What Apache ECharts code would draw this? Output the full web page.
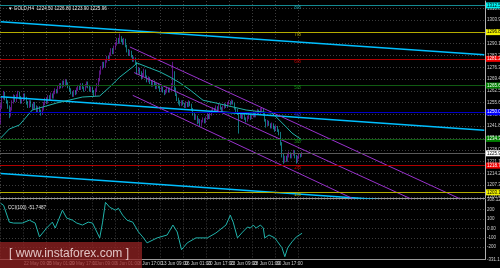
<!DOCTYPE html>
<html><head><meta charset="utf-8">
<script src="https://cdn.jsdelivr.net/npm/echarts@6/dist/echarts.min.js"></script>
<style>html,body{margin:0;padding:0;background:#000}#c{width:500px;height:268px}</style>
</head><body><div id="c"></div>
<script>
// ---------- DATA ----------
const symbolName = 'GOLD,H4';
const barCount = 338;
const timeTickIdx = [0,16,32,48,64,80,96,112,128,144,160,176,192,208];
const timeLabels = ['17 May 2017','22 May 09:00','25 May 01:00','29 May 17:00','1 Jun 09:00','6 Jun 01:00','8 Jun 17:00','13 Jun 09:00','16 Jun 01:00','20 Jun 17:00','23 Jun 09:00','28 Jun 01:00','30 Jun 17:00','5 Jul 09:00'];
const priceTicks = [1200.40,1207.30,1214.20,1221.10,1228.00,1234.90,1241.80,1248.70,1255.60,1262.50,1269.40,1276.30,1283.20,1290.10,1297.00,1303.90,1310.80];
const cciTicks = [-331.1962,-200,-100,0,100,200,308.1277];

const opens = [1244,1253,1258.5,1261,1258,1256,1253,1248.5,1252,1256,
1259,1257,1259.5,1261,1258.5,1256,1257.5,1260,1258,1255.5,
1253.5,1256,1254,1252.5,1255,1253,1251,1252.5,1250.5,1249,
1252,1255,1257.5,1256,1259,1258,1260.5,1259,1261.5,1263,
1262,1264.5,1266,1265,1267.5,1266,1268,1266.5,1265,1263,
1261.5,1260,1262,1261,1263.5,1265,1264,1266,1264.5,1263,
1265.5,1267,1265,1263,1264,1262,1260.5,1263,1266,1269,
1273,1276,1278.5,1277,1280,1282,1281,1284,1286.5,1285,
1288,1290,1292.5,1291,1293.5,1292,1290.5,1292.5,1289,1286,
1284,1285.5,1283,1280.5,1281.5,1279,1274,1275.5,1273,1270.5,
1272,1274.5,1271,1268.5,1270,1267.5,1266,1268,1266.5,1264.5,
1266,1265,1263,1264.5,1262.5,1261,1262.5,1264,1262.5,1263.5,
1266,1272,1264,1260.5,1257.5,1256,1254.5,1256,1255,1253.5,
1255.5,1254,1256,1254.5,1252,1249,1246.5,1247.5,1244,1245.5,
1243,1244.5,1246,1244.5,1246.5,1248.5,1247,1249,1250.5,1252,
1251,1253,1252,1254,1252.5,1251,1253,1254.5,1253.5,1255,
1256,1255,1256.5,1255,1252.5,1251,1249.5,1247.5,1249,1247,
1248.5,1246.5,1245,1247,1248.5,1246.5,1248,1249.5,1248,1249.5,
1251,1250,1251.5,1252,1249,1245.5,1243,1244.5,1243,1241.5,
1243,1241,1240,1241.5,1239.5,1238,1232,1225,1221.5,1223.5,
1222,1224.5,1226,1224,1225.5,1227,1224,1221,1223.5,1225,
1224.5];
const closes = [1253,1258.5,1261,1258,1256,1253,1248.5,1252,1256,1259,
1257,1259.5,1261,1258.5,1256,1257.5,1260,1258,1255.5,1253.5,
1256,1254,1252.5,1255,1253,1251,1252.5,1250.5,1249,1252,
1255,1257.5,1256,1259,1258,1260.5,1259,1261.5,1263,1262,
1264.5,1266,1265,1267.5,1266,1268,1266.5,1265,1263,1261.5,
1260,1262,1261,1263.5,1265,1264,1266,1264.5,1263,1265.5,
1267,1265,1263,1264,1262,1260.5,1263,1266,1269,1273,
1276,1278.5,1277,1280,1282,1281,1284,1286.5,1285,1288,
1290,1292.5,1291,1293.5,1292,1290.5,1292.5,1289,1286,1284,
1285.5,1283,1280.5,1281.5,1279,1274,1275.5,1273,1270.5,1272,
1274.5,1271,1268.5,1270,1267.5,1266,1268,1266.5,1264.5,1266,
1265,1263,1264.5,1262.5,1261,1262.5,1264,1262.5,1263.5,1266,
1272,1264,1260.5,1257.5,1256,1254.5,1256,1255,1253.5,1255.5,
1254,1256,1254.5,1252,1249,1246.5,1247.5,1244,1245.5,1243,
1244.5,1246,1244.5,1246.5,1248.5,1247,1249,1250.5,1252,1251,
1253,1252,1254,1252.5,1251,1253,1254.5,1253.5,1255,1256,
1255,1256.5,1255,1252.5,1251,1249.5,1247.5,1249,1247,1248.5,
1246.5,1245,1247,1248.5,1246.5,1248,1249.5,1248,1249.5,1251,
1250,1251.5,1252,1249,1245.5,1243,1244.5,1243,1241.5,1243,
1241,1240,1241.5,1239.5,1238,1232,1225,1221.5,1223.5,1222,
1224.5,1226,1224,1225.5,1227,1224,1221,1223.5,1225,1224.5,
1225.96];
const highs = [1255,1259.5,1262.5,1262,1259,1257,1254,1253,1257,1260.5,
1260,1260.5,1262.5,1262,1259.5,1258.5,1261,1261,1259,1256.5,
1257,1257,1255,1256,1256,1254,1253.5,1253.5,1251.5,1253,
1256,1258.5,1258.5,1260,1260,1261.5,1261,1262.5,1264,1263.5,
1265.5,1267,1267,1268.5,1268.5,1269.5,1269,1267.5,1266,1264,
1262,1263,1263,1264.5,1266,1266,1267,1267,1265,1266.5,
1268,1268,1266,1265,1265,1263,1264,1267,1270,1274.5,
1277,1279.5,1279.5,1281,1283,1283,1285,1287.5,1287.5,1289,
1291,1293.5,1293.5,1296,1294.5,1293,1293.5,1293,1289.5,1287,
1286.5,1286,1283.5,1282.5,1282,1279.5,1276.5,1276,1274,1273,
1275.5,1275,1271.5,1271,1270.5,1268.5,1269,1268.5,1267,1267,
1267,1265.5,1265.5,1265,1263,1263.5,1265,1264.5,1264.5,1267,
1279.5,1274,1264.5,1261,1258.5,1257,1257,1257,1255.5,1256.5,
1256,1257,1256.5,1255,1252.5,1249.5,1248.5,1248,1246.5,1246,
1245.5,1247,1246.5,1247.5,1249.5,1249,1250,1251.5,1253,1252.5,
1254,1253.5,1255,1254.5,1253,1254,1255.5,1255,1256,1257,
1256.5,1257.5,1257,1255.5,1253,1252,1250,1250,1249.5,1249.5,
1249,1247,1248,1249.5,1249,1249,1250.5,1250,1250.5,1252,
1251.5,1252.5,1253,1252.5,1249.5,1246,1245.5,1245,1243.5,1244,
1243.5,1242,1242.5,1242,1240,1238.5,1232.5,1226,1224.5,1224.5,
1225.5,1227,1226.5,1226,1228,1227.5,1225,1224.5,1226,1226,
1226.8];
const lows = [1243,1252,1257.5,1257,1255,1252,1246.5,1247.5,1251,1255,
1256,1256,1258.5,1257.5,1255,1255,1256.5,1257,1254.5,1252.5,
1252.5,1253,1251.5,1251.5,1252,1250,1250,1249.5,1248,1248.5,
1251,1254,1255,1255,1257,1257,1258,1258,1260.5,1261,
1261,1263.5,1264,1264,1265,1265,1265.5,1264,1262,1260.5,
1259,1259,1260,1260.5,1262.5,1263,1263,1263.5,1262,1262.5,
1264.5,1264,1262,1262,1261,1259,1259.5,1262,1265,1268,
1272,1275,1276,1276,1279,1280,1280,1283,1284,1284,
1287,1289,1290,1290,1291,1289.5,1289.5,1288,1285,1283,
1283,1282,1279.5,1279.5,1278,1272,1273,1272,1269.5,1269.5,
1271,1270,1267.5,1267.5,1266.5,1265,1265,1265.5,1263.5,1263.5,
1264,1262,1262,1261.5,1260,1260.5,1261.5,1261.5,1261.5,1262.5,
1264.5,1262,1259.5,1256.5,1254.5,1253.5,1253.5,1254,1252.5,1252.5,
1253,1253,1253.5,1251,1248,1245.5,1245.5,1243,1243.5,1241.5,
1242,1244,1243.5,1243.5,1245.5,1246,1246,1248,1249.5,1250,
1250,1251,1251,1251.5,1250,1250,1252,1252.5,1252.5,1254.5,
1254,1254.5,1254.5,1251.5,1250,1248.5,1237.5,1246.5,1246,1246,
1245.5,1244,1244.5,1246,1245.5,1246,1247,1247,1247,1248.5,
1249,1249,1250.5,1248,1244.5,1241,1242,1242,1240.5,1240.5,
1240,1238.5,1239,1238.5,1236.5,1230.5,1223.5,1219.8,1220.5,1221,
1221,1223.5,1223,1223,1224.5,1223,1219.9,1220.5,1222.5,1223.5,
1223.9];

const maIdx = [0,6,13,22,39,57,69,76,83,92,95,102,111,118,125,132,141,150,171,189,192,199,203,210];
const maVal = [1234.9,1240.2,1242.5,1251.3,1255.4,1258.9,1259.5,1264.8,1270.6,1276.5,1278.8,1276.5,1273.6,1270.6,1267.1,1263,1257,1255.4,1251.3,1249.5,1247.2,1241.3,1237.8,1233.7];

const cciIdx = [0,2,6,9,15,20,24,27,32,36,38,43,46,50,53,57,61,64,69,71,73,76,80,82,85,88,92,96,99,102,109,116,120,123,126,130,136,144,150,157,160,162,165,168,172,174,176,178,181,183,184,187,191,193,196,198,200,203,206,210];
const cciVal = [267,246,67,57,57,88,57,-90,4,67,4,194,110,88,57,36,67,57,-101,67,278,225,194,215,141,88,67,-38,-91,-154,-101,-70,36,-38,-227,-154,-101,-101,-48,36,141,67,-101,-48,15,4,36,4,36,4,-101,-70,-101,-143,-206,-301,-206,-143,-91,-51.7487];

const murreyLevels = [1312.5,1296.875,1281.25,1265.625,1250,1234.375,1218.75,1203.125];
const murreyNames = ['8/8','7/8','6/8','5/8','4/8','3/8','2/8','1/8'];
const murreyLabelIdx = 205;
const bidPrice = 1225.96;

const channelA = [[90,1288.2],[337,1192.8]];
const channelB = [[93,1273.2],[337,1179.7]];
const channelC = [[92,1259.9],[337,1163.3]];
const trendL1 = [[0,1303.0],[337,1283.7]];
const trendL2 = [[0,1259.1],[337,1239.5]];
const trendL3 = [[0,1214.2],[337,1194.6]];

// ---------- STYLE ----------
const murreyLine = ['#148a92','#b4ac00','#b00000','#105a12','#0000c8','#105a12','#b00000','#b4ac00'];
const murreyBox  = ['#00f0f0','#f0f000','#f00000','#008000','#0000ff','#008000','#f00000','#f0f000'];
const murreyBoxText = ['#000','#000','#fff','#fff','#fff','#fff','#fff','#000'];
const murreyText = ['#1aa8b0','#b8b000','#d00000','#149414','#2020e0','#149414','#d00000','#b8b000'];
const FONT = 'Liberation Sans';
const gridCol = '#3c3c3c';

const cats = Array.from({length: barCount}, (_, i) => String(i));
const tmap = {};
timeTickIdx.forEach((t, k) => { tmap[t] = timeLabels[k]; });
const isTick = (i) => tmap[i] !== undefined;

const candleData = opens.map((o, i) => [o, closes[i], lows[i], highs[i]]);
const maData = maIdx.map((x, k) => [x, maVal[k]]);
const cciData = cciIdx.map((x, k) => [x, cciVal[k]]);
const last = opens.length - 1;
const titleText = '\u25BC ' + symbolName + '  ' + [opens[last], highs[last], lows[last], closes[last]].map(v => v.toFixed(2)).join(' ');

const xBase = (gi) => ({
  type: 'category', gridIndex: gi, data: cats, boundaryGap: true,
  axisTick: {show: false},
  axisLine: {show: true, onZero: false, lineStyle: {color: '#9a9a9a', width: 1}},
  splitLine: {show: true, interval: (i) => isTick(i), lineStyle: {color: gridCol, type: [1, 2], width: 1}}
});

const lineSeries = (data, color, width) => ({
  type: 'line', xAxisIndex: 0, yAxisIndex: 0, data, symbol: 'none', silent: true,
  clip: true, lineStyle: {color, width}, z: 4
});

const option = {
  backgroundColor: '#000',
  animation: false,
  title: [
    {text: titleText, left: 3, top: 1, textStyle: {fontSize: 4.6, color: '#e6e6e6', fontWeight: 'normal', fontFamily: FONT}},
    {text: 'CCI(100) ' + cciVal[cciVal.length - 1].toFixed(4), left: 3, top: 200.5, textStyle: {fontSize: 4.6, color: '#e6e6e6', fontWeight: 'normal', fontFamily: FONT}}
  ],
  grid: [
    {left: 0, right: 15, top: 1, height: 197, outerBoundsMode: 'none', containLabel: false},
    {left: 0, right: 15, top: 199.5, height: 60, outerBoundsMode: 'none', containLabel: false}
  ],
  xAxis: [
    Object.assign(xBase(0), {axisLabel: {show: false}}),
    Object.assign(xBase(1), {axisLabel: {show: true, interval: (i) => isTick(i), formatter: (v) => tmap[+v] || '', fontSize: 4.6, color: '#cfcfcf', align: 'left', margin: 2, fontFamily: FONT}})
  ],
  yAxis: [
    {type: 'value', gridIndex: 0, position: 'right', min: 1199.8, max: 1315.1,
     axisLine: {show: true, onZero: false, lineStyle: {color: '#b0b0b0'}},
     axisTick: {show: false, customValues: priceTicks},
     axisLabel: {customValues: priceTicks, formatter: (v) => v.toFixed(2), fontSize: 4.5, color: '#cfcfcf', margin: 2, fontFamily: FONT},
     splitLine: {show: true, lineStyle: {color: gridCol, type: [1, 2]}}},
    {type: 'value', gridIndex: 1, position: 'right', min: -331.1962, max: 308.1277,
     axisLine: {show: true, onZero: false, lineStyle: {color: '#b0b0b0'}},
     axisTick: {show: false, customValues: cciTicks},
     axisLabel: {customValues: cciTicks, formatter: (v) => v === 0 ? '0.00' : (Number.isInteger(v) ? String(v) : v.toFixed(4)), fontSize: 4.5, color: '#cfcfcf', margin: 2, fontFamily: FONT},
     splitLine: {show: true, lineStyle: {color: gridCol, type: [1, 2]}}}
  ],
  series: [
    lineSeries(trendL1, '#00bfff', 1.5),
    lineSeries(trendL2, '#00bfff', 1.5),
    lineSeries(trendL3, '#00bfff', 1.5),
    {
      type: 'candlestick', xAxisIndex: 0, yAxisIndex: 0, data: candleData, barWidth: 1, z: 3,
      itemStyle: {color: '#9a24dc', color0: '#1cc6d6', borderColor: '#9a24dc', borderColor0: '#1cc6d6', borderWidth: 0.6},
      markLine: {
        symbol: 'none', silent: true, animation: false,
        data: murreyLevels.map((v, k) => ({
          yAxis: v,
          lineStyle: {color: murreyLine[k], width: 1, type: 'solid'},
          label: {show: true, position: 'end', formatter: v.toFixed(2), backgroundColor: murreyBox[k], color: murreyBoxText[k], fontSize: 4.5, padding: [0.5, 1], distance: 1, fontFamily: FONT}
        })).concat([{
          yAxis: bidPrice,
          lineStyle: {color: '#5a5a5a', width: 1, type: 'solid'},
          label: {show: true, position: 'end', formatter: bidPrice.toFixed(2), backgroundColor: '#ffffff', color: '#000', fontSize: 4.5, padding: [0.5, 1], distance: 1, fontFamily: FONT}
        }])
      }
    },
    lineSeries(maData, '#20b2aa', 1),
    lineSeries(channelA, '#9932cc', 1),
    lineSeries(channelB, '#9932cc', 1),
    lineSeries(channelC, '#9932cc', 1),
    {
      type: 'scatter', xAxisIndex: 0, yAxisIndex: 0, symbolSize: 1, silent: true, z: 6,
      itemStyle: {color: 'rgba(0,0,0,0)'},
      data: murreyLevels.map((v, k) => ({value: [murreyLabelIdx, v], name: murreyNames[k],
        label: {show: true, formatter: murreyNames[k], position: [0, 0.5], align: 'left', verticalAlign: 'top', color: murreyText[k], fontSize: 4.6, fontFamily: FONT, opacity: 1}}))
    },
    {
      type: 'line', xAxisIndex: 1, yAxisIndex: 1, data: cciData, symbol: 'none', silent: true,
      lineStyle: {color: '#20b2aa', width: 1}
    }
  ],
  graphic: [
    {type: 'rect', left: 0, top: 242, shape: {width: 142, height: 26}, style: {fill: 'rgba(150,35,35,0.74)'}, z: 100},
    {type: 'text', left: 9, top: 248, style: {text: '[ www.instaforex.com ]', fill: '#e2c4c4', font: '12px "Liberation Sans"'}, z: 101}
  ]
};

const chart = echarts.init(document.getElementById('c'), null, {renderer: 'canvas', width: 500, height: 268});
chart.setOption(option);
</script>
</body></html>
